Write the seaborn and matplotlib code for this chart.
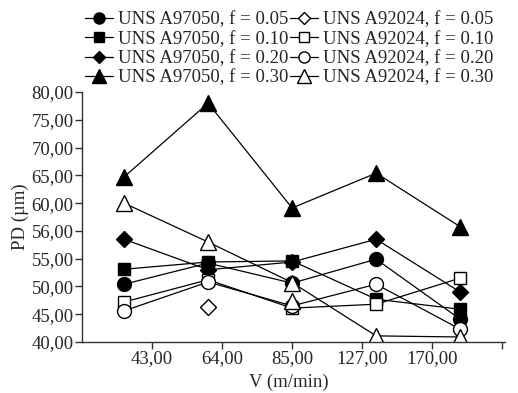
import numpy as np
import pandas as pd
import matplotlib
matplotlib.use("Agg")
import matplotlib.pyplot as plt
import seaborn as sns

# ---- data ----
v_labels = ["43,00", "64,00", "85,00", "127,00", "170,00"]
y_ticks = [40, 45, 50, 55, 56, 60, 65, 70, 75, 80]

a97050_f005 = [50.4, 54.2, 50.6, 54.9, 44.1]
a97050_f010 = [53.1, 54.4, 54.6, 47.7, 45.9]
a97050_f020 = [55.7, 53.0, 54.4, 55.7, 49.0]
a97050_f030 = [64.7, 78.0, 59.3, 65.4, 56.6]
a92024_f005 = [np.nan, 46.3, np.nan, np.nan, np.nan]
a92024_f010 = [47.2, 51.2, 46.1, 46.8, 51.5]
a92024_f020 = [45.6, 50.8, 46.5, 50.4, 42.3]
a92024_f030 = [60.0, 55.6, 50.7, 41.1, 40.9]
a92024_f030_extra = [np.nan, np.nan, 47.4, np.nan, np.nan]

labels = ["UNS A97050, f = 0.05", "UNS A97050, f = 0.10",
          "UNS A97050, f = 0.20", "UNS A97050, f = 0.30",
          "UNS A92024, f = 0.05", "UNS A92024, f = 0.10",
          "UNS A92024, f = 0.20", "UNS A92024, f = 0.30"]
series = [a97050_f005, a97050_f010, a97050_f020, a97050_f030,
          a92024_f005, a92024_f010, a92024_f020, a92024_f030]
markers = ["o", "s", "D", "^", "D", "s", "o", "^"]
msizes = [10, 9, 8, 12, 8, 9, 10, 12]
filled = [True, True, True, True, False, False, False, False]

# category slots: points sit between the labelled ticks
slot = np.arange(len(v_labels)) * 1.2 + 0.6

FS = 13.5
sns.set_style("ticks")
plt.rcParams["font.family"] = ["Liberation Serif", "DejaVu Serif"]

fig = plt.figure(figsize=(5.18, 3.93), dpi=100)
ax = fig.add_axes([0.1583, 0.1298, 0.8166, 0.636])

idx = np.arange(len(y_ticks), dtype=float)
fwd = lambda v: np.interp(v, y_ticks, idx)
inv = lambda p: np.interp(p, idx, y_ticks)
ax.set_yscale("function", functions=(fwd, inv))

handles = []
for vals, lab, m, ms, f in zip(series, labels, markers, msizes, filled):
    df = pd.DataFrame({"V": slot, "PD": vals}).dropna()
    sns.lineplot(data=df, x="V", y="PD", ax=ax, color="black", lw=0.9,
                 marker=m, ms=ms, markeredgecolor="black",
                 markerfacecolor="black" if f else "white",
                 markeredgewidth=1.0, label=lab, legend=False, sort=False)
    handles.append(ax.lines[-1])

df = pd.DataFrame({"V": slot, "PD": a92024_f030_extra}).dropna()
sns.lineplot(data=df, x="V", y="PD", ax=ax, color="black", lw=0,
             marker="^", ms=12, markeredgecolor="black",
             markerfacecolor="white", markeredgewidth=1.0, legend=False)

ax.set_ylim(40, 80)
ax.set_yticks(y_ticks)
ax.set_yticklabels([f"{t:.2f}".replace(".", ",") for t in y_ticks], fontsize=FS)
ax.set_xlim(0, 6.04)
ax.set_xticks([1, 2, 3, 4, 5, 6])
ax.set_xticklabels(v_labels + [""], fontsize=FS)
ax.set_xlabel("V (m/min)", fontsize=FS, labelpad=-5)
ax.xaxis.set_label_coords(0.49, -0.125)
ax.set_ylabel("PD (µm)", fontsize=FS, labelpad=2)
for s in ["top", "right"]:
    ax.spines[s].set_visible(False)
for s in ["left", "bottom"]:
    ax.spines[s].set_color("#333333")
    ax.spines[s].set_linewidth(1.0)
ax.tick_params(axis="both", direction="out", length=5, width=1.0,
               color="#333333", pad=1)

fig.legend(handles=handles, labels=labels, ncol=2, loc="upper center",
           bbox_to_anchor=(0.558, 0.995), frameon=False, fontsize=FS,
           labelspacing=0.12, handlelength=1.5, handletextpad=0.25,
           columnspacing=0.1, borderpad=0.0, markerscale=0.8)

fig.savefig("out.png", dpi=100)
